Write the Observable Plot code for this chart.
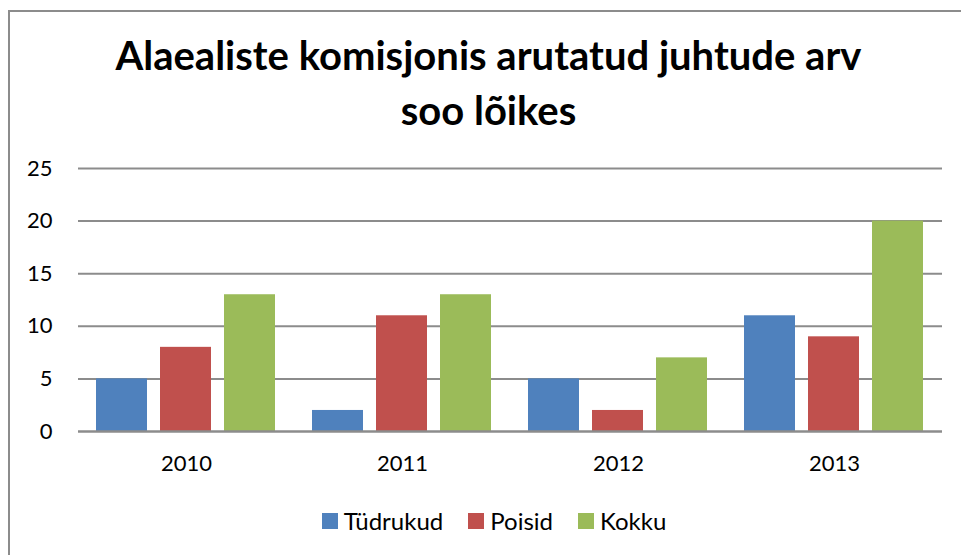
<!DOCTYPE html>
<html>
<head>
<meta charset="utf-8">
<script src="https://cdn.jsdelivr.net/npm/d3@7"></script>
<script src="https://cdn.jsdelivr.net/npm/@observablehq/plot@0.6"></script>
<style>
  html, body { margin: 0; padding: 0; background: #fff; }
  #wrap { position: relative; width: 961px; height: 555px; overflow: hidden; font-family: Lato, "Open Sans", sans-serif; }
  #frame { position: absolute; left: 8px; top: 10px; width: 980px; height: 600px; border: 2px solid #8c8c8c; box-sizing: border-box; }
  #title { position: absolute; left: 8px; width: 961px; top: 28px; text-align: center; font-weight: 700; font-size: 40px; line-height: 55px; color: #000; }
  #chart { position: absolute; left: 0; top: 150px; }
  #legend { position: absolute; left: 0; width: 988px; top: 506px; display: flex; justify-content: center; gap: 25px; font-size: 24px; color: #000; }
  #legend .item { display: flex; align-items: center; gap: 6px; }
  #legend .sw { width: 16px; height: 16px; display: inline-block; }
</style>
</head>
<body>
<div id="wrap">
  <div id="frame"></div>
  <div id="title">Alaealiste komisjonis arutatud juhtude arv<br>soo lõikes</div>
  <div id="chart"></div>
  <div id="legend"></div>
</div>
<script>
const years = ["2010", "2011", "2012", "2013"];
const seriesNames = ["Tüdrukud", "Poisid", "Kokku"];
const girls = [5, 2, 5, 11];
const boys = [8, 11, 2, 9];
const total = [13, 13, 7, 20];
const colors = ["#4F81BD", "#C0504D", "#9BBB59"];
const yTicks = [0, 5, 10, 15, 20, 25];

const seriesValues = [girls, boys, total];
const data = [];
years.forEach((y, i) => {
  seriesNames.forEach((s, j) => {
    data.push({year: y, series: s, value: seriesValues[j][i]});
  });
});

const plot = Plot.plot({
  width: 961,
  height: 340,
  marginLeft: 77,
  marginRight: 19,
  marginTop: 18,
  marginBottom: 59,
  style: {fontFamily: "Lato, 'Open Sans', sans-serif", fontSize: "22px", color: "#000", background: "transparent"},
  fx: {domain: years, padding: 0, label: null, tickSize: 0, tickPadding: 24},
  x: {domain: seriesNames, paddingInner: 0.197, paddingOuter: 0.27, axis: null},
  y: {domain: [0, 25], ticks: yTicks, tickSize: 0, tickPadding: 26, label: null},
  color: {domain: seriesNames, range: colors},
  marks: [
    Plot.ruleY(yTicks.filter(d => d > 0), {stroke: "#8c8c8c", strokeWidth: 2, strokeOpacity: 1}),
    Plot.barY(data, {fx: "year", x: "series", y: "value", fill: "series"}),
    Plot.ruleY([0], {stroke: "#8c8c8c", strokeWidth: 2.5, strokeOpacity: 1})
  ]
});
document.getElementById("chart").appendChild(plot);

const legend = document.getElementById("legend");
seriesNames.forEach((s, i) => {
  const item = document.createElement("div");
  item.className = "item";
  const sw = document.createElement("span");
  sw.className = "sw";
  sw.style.background = colors[i];
  const t = document.createElement("span");
  t.textContent = s;
  item.appendChild(sw);
  item.appendChild(t);
  legend.appendChild(item);
});
</script>
</body>
</html>
